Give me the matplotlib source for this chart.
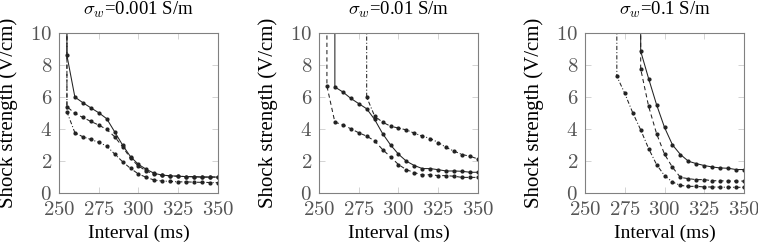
import numpy as np
import matplotlib.pyplot as plt

plt.rcParams['font.family'] = ['Liberation Serif', 'DejaVu Serif']
plt.rcParams['mathtext.fontset'] = 'cm'

# conductivity per panel
sigma_labels = ["0.001", "0.01", "0.1"]
x_ticks = [250, 275, 300, 325, 350]
y_ticks = [0, 2, 4, 6, 8, 10]

# each curve: first interval where a shock works, then thresholds every 5 ms
# (the line comes down from above the plot at the first interval)
off_top = 20

solid_start = [255, 260, 285]
solid_vals = [
    [8.6, 6.0, 5.65, 5.33, 5.02, 4.65, 3.83, 3.0, 2.27, 1.79, 1.48, 1.23, 1.12, 1.08, 1.05, 1.03, 1.02, 1.0, 1.0, 1.0],
    [6.63, 6.32, 5.92, 5.59, 5.27, 4.6, 3.72, 3.01, 2.43, 1.99, 1.72, 1.53, 1.53, 1.46, 1.38, 1.38, 1.36, 1.3, 1.3],
    [8.87, 7.15, 5.52, 4.1, 3.01, 2.41, 1.99, 1.84, 1.72, 1.63, 1.57, 1.55, 1.47, 1.47],
]

dashed_start = [255, 255, 285]
dashed_vals = [
    [5.4, 4.98, 4.73, 4.48, 4.25, 3.98, 3.52, 2.9, 2.17, 1.69, 1.38, 1.17, 1.1, 1.08, 1.05, 1.03, 1.02, 1.0, 1.0, 1.0],
    [6.69, 4.43, 4.27, 4.02, 3.77, 3.56, 3.26, 2.72, 2.26, 1.78, 1.46, 1.28, 1.13, 1.15, 1.09, 1.09, 1.05, 0.98, 0.98, 0.98],
    [7.76, 5.42, 3.71, 2.43, 1.61, 0.98, 0.9, 0.84, 0.84, 0.77, 0.77, 0.75, 0.75, 0.75],
]

dashdot_start = [255, 280, 270]
dashdot_vals = [
    [5.08, 3.77, 3.52, 3.35, 3.17, 2.94, 2.44, 1.96, 1.54, 1.19, 0.98, 0.81, 0.75, 0.73, 0.7, 0.7, 0.68, 0.67, 0.66, 0.65],
    [6.0, 4.81, 4.43, 4.18, 4.06, 3.95, 3.74, 3.56, 3.41, 3.16, 2.85, 2.62, 2.41, 2.3, 2.13],
    [7.3, 6.23, 5.02, 3.95, 2.78, 1.78, 1.09, 0.69, 0.48, 0.42, 0.42, 0.38, 0.38, 0.37, 0.36, 0.36, 0.36],
]

STYLES = {
    'solid': '-',
    'dashed': (0, (4, 3)),
    'dashdot': (0, (4, 2, 1, 2)),
}


def draw_curve(ax, start, vals, ls):
    x = [start] + [start + 5 * i for i in range(len(vals))]
    y = [off_top] + list(vals)
    ax.plot(x, y, color='#222222', lw=0.75, linestyle=ls,
            marker='o', markersize=2.0, markevery=list(range(1, len(y))))


fig = plt.figure(figsize=(7.58, 2.45), dpi=100)
lefts = [0.0778, 0.4208, 0.7718]

for i, sig in enumerate(sigma_labels):
    ax = fig.add_axes([lefts[i], 0.212, 0.2098, 0.653])
    draw_curve(ax, dashdot_start[i], dashdot_vals[i], STYLES['dashdot'])
    draw_curve(ax, dashed_start[i], dashed_vals[i], STYLES['dashed'])
    draw_curve(ax, solid_start[i], solid_vals[i], STYLES['solid'])

    ax.set_xlim(250, 350)
    ax.set_ylim(0, 10)
    ax.set_xticks(x_ticks)
    ax.set_xticklabels([f"${t}$" for t in x_ticks])
    ax.set_yticks(y_ticks)
    ax.set_yticklabels([f"${t}$" for t in y_ticks])
    ax.tick_params(direction='in', length=4, width=0.6, color='#cccccc',
                   labelsize=15, labelcolor='#555555', top=True, right=True)
    ax.tick_params(axis='y', pad=5)
    ax.tick_params(axis='x', pad=6)
    for sp in ax.spines.values():
        sp.set_color('#808080')
        sp.set_linewidth(0.8)
    ax.set_title(r"$\sigma_w$=" + sig + " S/m", fontsize=13.5, pad=13)
    ax.set_xlabel("Interval (ms)", fontsize=14)
    ax.set_ylabel("Shock strength (V/cm)", fontsize=15)
    ax.xaxis.set_label_coords(0.5, -0.2)
    ax.yaxis.set_label_coords(-0.255, 0.5)

fig.savefig("out.png", dpi=100)
